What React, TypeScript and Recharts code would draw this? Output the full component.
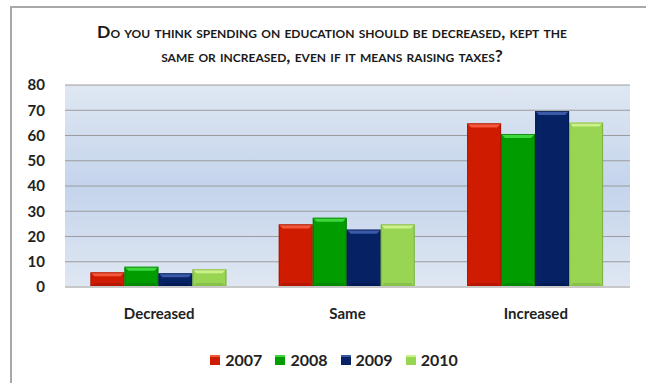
import React from 'react';
import {
  BarChart,
  Bar,
  XAxis,
  YAxis,
  CartesianGrid,
  Legend,
} from 'recharts';

const categories = ['Decreased', 'Same', 'Increased'];
const years = ['2007', '2008', '2009', '2010'];
const values2007 = [5.8, 24.8, 64.8];
const values2008 = [8, 27.4, 60.6];
const values2009 = [5.4, 22.7, 69.7];
const values2010 = [7, 24.8, 65.1];
const yTicks = [0, 10, 20, 30, 40, 50, 60, 70, 80];

const seriesValues = [values2007, values2008, values2009, values2010];

const SERIES_COLORS: Record<string, { main: string; light: string; dark: string }> = {
  '2007': { main: '#cf1b00', light: '#f4573a', dark: '#8a1200' },
  '2008': { main: '#009c00', light: '#3ed83e', dark: '#006400' },
  '2009': { main: '#062265', light: '#3a5aa8', dark: '#001040' },
  '2010': { main: '#98d552', light: '#cdf28c', dark: '#6b9a36' },
};

const data = categories.map((name, i) => {
  const row: Record<string, string | number> = { name };
  years.forEach((y, s) => {
    row[y] = seriesValues[s][i];
  });
  return row;
});

const FONT = 'Lato, "Open Sans", sans-serif';

function bevelShape(year: string) {
  const c = SERIES_COLORS[year];
  return (props: any) => {
    const { x, y, width, height } = props;
    if (!height || height <= 0) return <g />;
    const b = Math.min(4, height / 2);
    return (
      <g>
        <rect x={x} y={y} width={width} height={height} fill={c.main} />
        <polygon
          points={`${x},${y} ${x + width},${y} ${x + width - b},${y + b} ${x + b},${y + b}`}
          fill={c.light}
        />
        <polygon
          points={`${x},${y + height} ${x + width},${y + height} ${x + width - b},${y + height - b} ${x + b},${y + height - b}`}
          fill={c.dark}
          opacity={0.35}
        />
        <rect
          x={x + 0.5}
          y={y + 0.5}
          width={width - 1}
          height={height - 1}
          fill="none"
          stroke={c.dark}
          strokeOpacity={0.6}
        />
      </g>
    );
  };
}

function LegendContent({ payload }: any) {
  return (
    <div
      style={{
        display: 'flex',
        justifyContent: 'center',
        gap: 13,
        fontFamily: FONT,
        paddingLeft: 22,
      }}
    >
      {(payload || []).map((p: any) => {
        const c = SERIES_COLORS[p.value];
        return (
          <div key={p.value} style={{ display: 'flex', alignItems: 'center', gap: 5 }}>
            <span
              style={{
                display: 'inline-block',
                width: 10,
                height: 10,
                background: c.main,
                borderTop: `2px solid ${c.light}`,
                boxSizing: 'border-box',
              }}
            />
            <span style={{ fontSize: 16, fontWeight: 700, color: '#222' }}>{p.value}</span>
          </div>
        );
      })}
    </div>
  );
}

export default function App() {
  return (
    <div
      style={{
        position: 'absolute',
        left: 0,
        top: 0,
        width: 646,
        height: 383,
        overflow: 'hidden',
        background: '#fff',
      }}
    >
      <div
        style={{
          position: 'absolute',
          left: 10,
          top: 6,
          width: 700,
          height: 500,
          borderLeft: '2px solid #a8a8a8',
          borderTop: '2px solid #a8a8a8',
        }}
      />
      <div
        style={{
          position: 'absolute',
          left: 0,
          top: 20,
          width: 664,
          textAlign: 'center',
          fontFamily: FONT,
          fontSize: 17.5,
          fontWeight: 700,
          fontVariant: 'small-caps',
          lineHeight: '24px',
          color: '#1a1a1a',
        }}
      >
        Do you think spending on education should be decreased, kept the
        <br />
        same or increased, even if it means raising taxes?
      </div>
      <div style={{ position: 'absolute', left: 0, top: 0 }}>
        <BarChart
          width={646}
          height={383}
          data={data}
          margin={{ top: 85, right: 16, bottom: 47, left: 15 }}
          barCategoryGap="13.5%"
          barGap={0}
        >
          <defs>
            <linearGradient id="plotBg" x1="0" y1="0" x2="0" y2="1">
              <stop offset="0%" stopColor="#dfe7f2" />
              <stop offset="50%" stopColor="#c4d4ec" />
              <stop offset="100%" stopColor="#dfe7f2" />
            </linearGradient>
          </defs>
          <CartesianGrid
            vertical={false}
            stroke="#9c9c9c"
            strokeWidth={1}
            fill="url(#plotBg)"
            fillOpacity={1}
          />
          <XAxis
            dataKey="name"
            tickLine={false}
            axisLine={{ stroke: '#c8c8c8', strokeWidth: 2 }}
            tick={{ fontFamily: FONT, fontSize: 15, fontWeight: 700, fill: '#222' }}
            tickMargin={15}
          />
          <YAxis
            domain={[0, 80]}
            ticks={yTicks}
            interval={0}
            width={50}
            tickLine={false}
            axisLine={false}
            tick={{ fontFamily: FONT, fontSize: 15, fontWeight: 700, fill: '#222' }}
            tickMargin={14}
          />
          <Legend
            verticalAlign="bottom"
            content={<LegendContent />}
            wrapperStyle={{ top: 350, left: 0, width: 646 }}
          />
          {years.map((y) => (
            <Bar
              key={y}
              dataKey={y}
              fill={SERIES_COLORS[y].main}
              shape={bevelShape(y)}
              isAnimationActive={false}
            />
          ))}
        </BarChart>
      </div>
    </div>
  );
}
